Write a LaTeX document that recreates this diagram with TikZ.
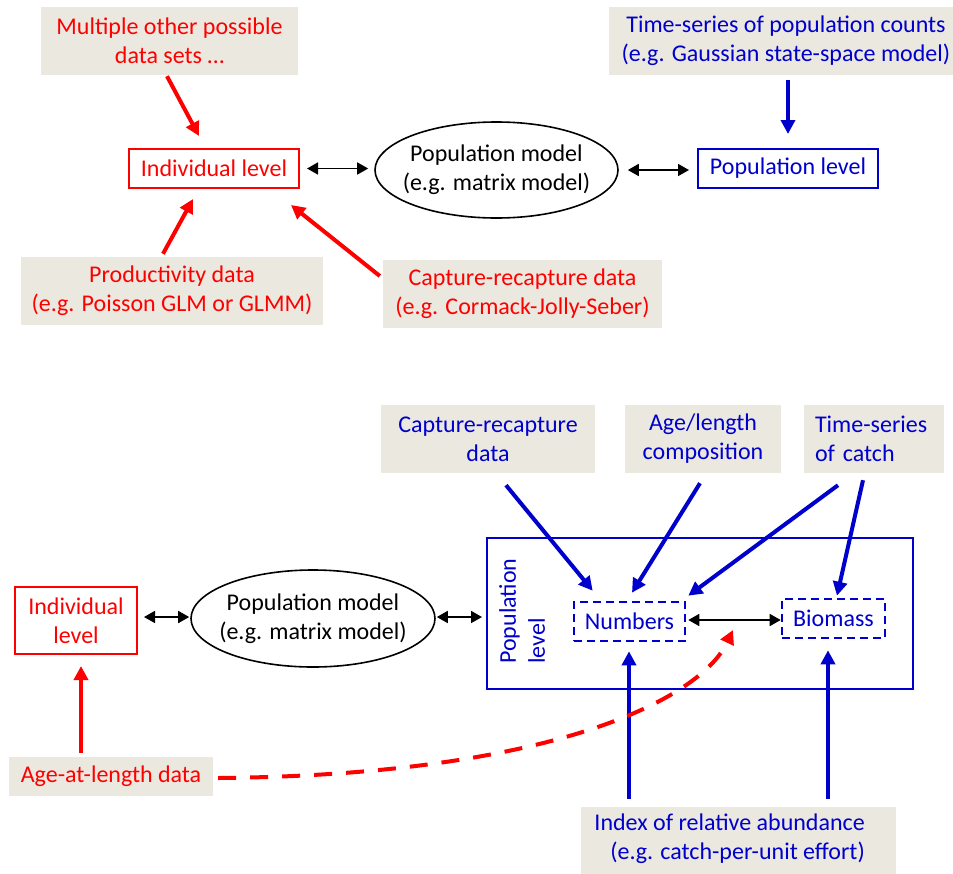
\documentclass[tikz,border=0pt]{standalone}
\usepackage{fontspec}
\setmainfont{Carlito}
\usetikzlibrary{arrows.meta,shapes.geometric,calc}
\definecolor{myred}{RGB}{255,0,0}
\definecolor{myblue}{RGB}{0,0,204}
\definecolor{boxfill}{RGB}{235,232,224}
\newcommand{\zb}[1]{\makebox[0pt]{#1}}
\begin{document}
\begin{tikzpicture}[x=1pt,y=-1pt,
  every node/.style={font=\fontsize{24}{29}\selectfont, inner sep=0pt, align=center},
  databox/.style={rectangle, fill=boxfill},
  redtxt/.style={text=myred},
  bluetxt/.style={text=myblue},
  redframe/.style={rectangle, draw=myred, line width=2pt, text=myred},
  blueframe/.style={rectangle, draw=myblue, line width=2pt, text=myblue},
  bluedash/.style={rectangle, draw=myblue, line width=2.6pt, dash pattern=on 8pt off 5pt, text=myblue},
  popell/.style={ellipse, draw=black, line width=1.6pt, minimum width=243pt, minimum height=96pt},
  redarr/.style={draw=myred, line width=4pt, -{Triangle[length=14pt,width=14pt]}},
  bluearr/.style={draw=myblue, line width=4pt, -{Triangle[length=14pt,width=14pt]}},
  dblarr/.style={draw=black, line width=1.7pt, {Triangle[length=11pt,width=12pt]}-{Triangle[length=11pt,width=12pt]}},
  reddash/.style={draw=myred, line width=4pt, dash pattern=on 18pt off 14pt, -{Triangle[length=14pt,width=14pt]}}
]
\useasboundingbox (0,0) rectangle (953,873);

% ---------------- top part ----------------
\node[databox, redtxt, minimum width=257pt, minimum height=68pt] (m1) at (169.5,41) {Multiple other possible\\data sets …};
\node[redframe, minimum width=170pt, minimum height=39pt] (ind1) at (214,168.5) {Individual level};
\node[popell] (pm1) at (496.5,170) {\zb{Population model}\\\zb{(e.g. matrix model)}};
\node[blueframe, minimum width=180pt, minimum height=39pt] (pop1) at (788,168.5) {Population level};
\node[databox, bluetxt, minimum width=354pt, minimum height=68pt] (ts1) at (786,41) {Time-series of population counts\\(e.g. Gaussian state-space model)};
\node[databox, redtxt, minimum width=302pt, minimum height=68pt] (pr1) at (172,291) {Productivity data\\(e.g. Poisson GLM or GLMM)};
\node[databox, redtxt, minimum width=279pt, minimum height=68pt] (cr1) at (522.5,294) {Capture-recapture data\\(e.g. Cormack-Jolly-Seber)};

\draw[redarr] ($(m1.south)+(-2.5,1)$) -- ($(ind1.north)+(-15,-12)$);
\draw[redarr] ($(pr1.north)+(-9,-3)$) -- ($(ind1.south)+(-21,10)$);
\draw[redarr] ($(cr1.west)+(-3,-18)$) -- ($(ind1.south east)+(-9,16)$);
\draw[bluearr] ($(ts1.south)+(2,5)$) -- ($(pop1.north)+(0,-14)$);
\draw[dblarr] ($(ind1.east)+(7,0)$) -- ($(pm1.west)+(-6,-1.5)$);
\draw[dblarr] ($(pm1.east)+(9,0)$) -- ($(pop1.west)+(-8,1.5)$);

% ---------------- bottom part ----------------
\node[databox, bluetxt, minimum width=214pt, minimum height=68pt] (cr2) at (488,439) {Capture-recapture\\data};
\node[databox, bluetxt, minimum width=156pt, minimum height=68pt] (al2) at (703,439) {Age/length\\composition};
\node[databox, bluetxt, text width=118pt, inner xsep=11pt, minimum height=68pt, align=left] (tc2) at (874,439) {Time-series\\of catch};
\node[blueframe, minimum width=426pt, minimum height=151pt] (popbig) at (700,613.5) {};
\node[rotate=90, align=left, text=myblue] (plab) at (522,611) {Population\\level};
\node[bluedash, minimum width=111pt, minimum height=39pt] (num) at (629.5,621.5) {Numbers};
\node[bluedash, minimum width=103pt, minimum height=39pt] (bio) at (833.5,618.5) {Biomass};
\node[databox, minimum width=315pt, minimum height=74pt] (idx) at (738.5,844) {};
\node[bluetxt, align=right, anchor=north east] (idxt) at (865,814) {Index of relative abundance\\(e.g. catch-per-unit effort)};

\node[redframe, minimum width=122pt, minimum height=67pt] (ind2) at (76,620.5) {Individual\\level};
\node[popell, minimum width=244pt, minimum height=97pt] (pm2) at (313,618.5) {\zb{Population model}\\\zb{(e.g. matrix model)}};
\node[databox, redtxt, minimum width=204pt, minimum height=39pt] (age) at (111,776.5) {Age-at-length data};

\draw[dblarr] ($(ind2.east)+(6,-3.5)$) -- ($(pm2.west)+(-1,-1.5)$);
\draw[dblarr] ($(pm2.east)+(1,-1.5)$) -- ($(popbig.west)+(-4,3.5)$);
\draw[dblarr] ($(num.east)+(2,-1.5)$) -- ($(bio.west)+(0,1.5)$);

\draw[redarr] ($(age.north)+(-30,-4)$) -- ($(ind2.south)+(5,11)$);

\draw[bluearr] ($(cr2.south)+(18,12)$) -- ($(num.north west)+(20,-10)$);
\draw[bluearr] ($(al2.south)+(-3,10)$) -- ($(num.north)+(2.5,-8)$);
\draw[bluearr] ($(tc2.south)+(-36,12)$) -- ($(num.north east)+(2,-5)$);
\draw[bluearr] ($(tc2.south)+(-11,7)$) -- ($(bio.north)+(3.5,-2)$);
\draw[bluearr] ($(idx.north)+(-109.5,-8)$) -- ($(num.south)+(-0.5,9)$);
\draw[bluearr] ($(idx.north)+(89.5,-8)$) -- ($(bio.south)+(-5.5,11)$);

\coordinate (dashend) at ($($(num.east)!0.5!(bio.west)$)+(-0.5,10)$);
\draw[reddash] ($(age.east)+(5,1.5)$) .. controls (550,775) and (700,700) .. (dashend);
\end{tikzpicture}
\end{document}
